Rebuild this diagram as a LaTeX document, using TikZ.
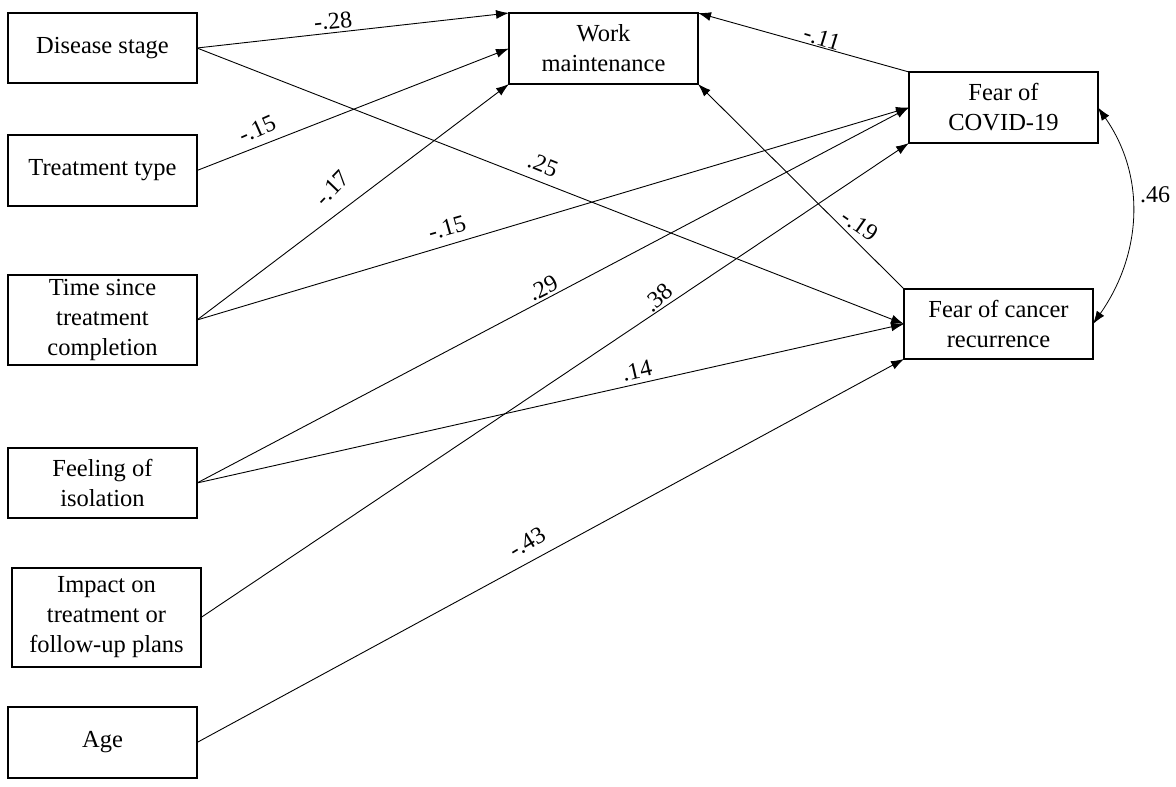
\documentclass[tikz,border=0pt]{standalone}
\usepackage{fontspec}
\setmainfont{Liberation Serif}
\usetikzlibrary{arrows.meta}
\begin{document}
\begin{tikzpicture}[x=1pt,y=-1pt,
  box/.style={draw,line width=1.7pt,minimum width=189pt,minimum height=70pt,inner sep=0pt,outer sep=0pt,align=center,font=\fontsize{24.5}{30}\selectfont},
  conn/.style={line width=0.9pt,-{Latex[length=13pt,width=9pt]}},
  lab/.style={font=\fontsize{24}{28}\selectfont,inner sep=0pt}]
\useasboundingbox (0,0) rectangle (1176,787);
\fill[white] (0,0) rectangle (1176,787);
% boxes
\node[box] (dis) at (102.5,48) {Disease stage};
\node[box,minimum height=71pt] (tt) at (102.5,170.5) {Treatment type};
\node[box,minimum height=90pt] (time) at (102.5,320) {Time since\\treatment\\completion};
\node[box] (feel) at (102.5,483) {Feeling of\\isolation};
\node[box,minimum height=99pt] (imp) at (106.5,617.5) {Impact on\\treatment or\\follow-up plans};
\node[box,minimum height=71pt] (age) at (102.5,742.5) {Age};
\node[box,minimum height=71pt] (wm) at (603.5,48.5) {Work\\maintenance};
\node[box,minimum height=71pt] (fc) at (1003.5,107.5) {Fear of\\COVID-19};
\node[box] (fcr) at (998.5,324) {Fear of cancer\\recurrence};
% connectors
\draw[conn] (dis.east) -- (wm.north west);
\draw[conn] (dis.east) -- (fcr.west);
\draw[conn] (tt.east) -- (wm.west);
\draw[conn] (time.east) -- (wm.south west);
\draw[conn] (time.east) -- (fc.west);
\draw[conn] (feel.east) -- (fc.west);
\draw[conn] (feel.east) -- (fcr.west);
\draw[conn] (imp.east) -- (fc.south west);
\draw[conn] (age.east) -- (fcr.south west);
\draw[conn] (fc.north west) -- (wm.north east);
\draw[conn] (fcr.north west) -- (wm.south east);
\draw[line width=0.8pt,{Latex[length=13pt,width=9pt]}-{Latex[length=13pt,width=9pt]}] (fc.east) to[out=-55,in=55] (fcr.east);
% labels
\node[lab,rotate=6] (l1) at (333,21) {-.28};
\node[lab,rotate=24] (l2) at (257,129) {-.15};
\node[lab,rotate=-22] (l3) at (543,165) {.25};
\node[lab,rotate=46] (l4) at (332,188) {-.17};
\node[lab,rotate=16] (l5) at (447,228) {-.15};
\node[lab,rotate=27] (l6) at (543,288) {.29};
\node[lab,rotate=42] (l7) at (658,298) {.38};
\node[lab,rotate=13] (l8) at (637,371) {.14};
\node[lab,rotate=31] (l9) at (527,542) {-.43};
\node[lab,rotate=-17] (l10) at (822,38) {-.11};
\node[lab,rotate=-35] (l11) at (860,225) {-.19};
\node[lab] (l12) at (1155,195) {.46};
\end{tikzpicture}
\end{document}
